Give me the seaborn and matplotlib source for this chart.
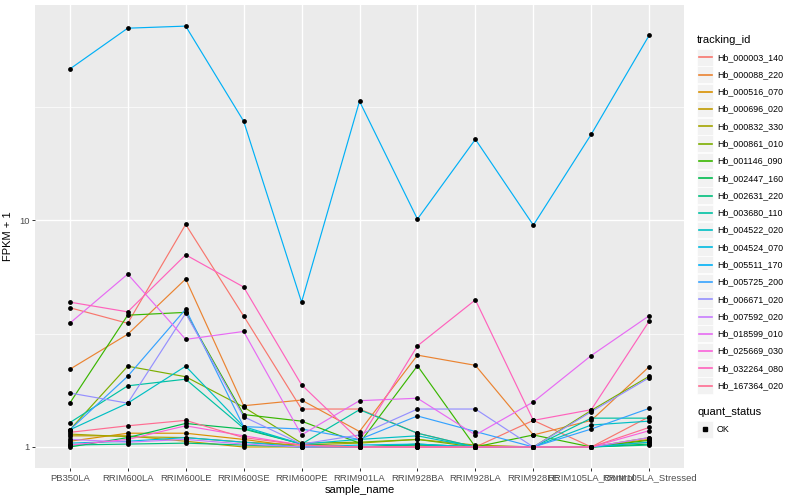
import pandas as pd
import matplotlib
matplotlib.use("Agg")
import matplotlib.pyplot as plt
import seaborn as sns
from matplotlib.patches import Rectangle
from matplotlib.lines import Line2D
from matplotlib.ticker import FixedLocator, NullFormatter

# ---- data (FPKM + 1) ----
samples = ["PB350LA", "RRIM600LA", "RRIM600LE", "RRIM600SE", "RRIM600PE",
           "RRIM901LA", "RRIM928BA", "RRIM928LA", "RRIM928LE",
           "RRIM105LA_Control", "RRIM105LA_Stressed"]

tracking_ids = ["Hb_000003_140", "Hb_000088_220", "Hb_000516_070", "Hb_000696_020",
                "Hb_000832_330", "Hb_000861_010", "Hb_001146_090", "Hb_002447_160",
                "Hb_002631_220", "Hb_003680_110", "Hb_004522_020", "Hb_004524_070",
                "Hb_005511_170", "Hb_005725_200", "Hb_006671_020", "Hb_007592_020",
                "Hb_018599_010", "Hb_025669_030", "Hb_032264_080", "Hb_167364_020"]

hb_000003_140 = [4.11, 3.51, 9.57, 3.78, 1.47, 1.47, 1.15, 1.00, 1.31, 1.00, 1.36]
hb_000088_220 = [2.20, 3.14, 5.50, 1.52, 1.61, 1.17, 2.54, 2.29, 1.13, 1.31, 2.26]
hb_000516_070 = [1.06, 1.15, 1.15, 1.08, 1.00, 1.00, 1.02, 1.00, 1.00, 1.00, 1.08]
hb_000696_020 = [1.12, 1.12, 1.06, 1.00, 1.00, 1.00, 1.00, 1.00, 1.00, 1.00, 1.05]
hb_000832_330 = [1.14, 1.11, 1.10, 1.05, 1.02, 1.04, 1.08, 1.02, 1.00, 1.00, 1.10]
hb_000861_010 = [1.19, 2.27, 2.04, 1.50, 1.04, 1.05, 1.08, 1.00, 1.00, 1.45, 2.05]
hb_001146_090 = [1.56, 3.81, 3.92, 1.39, 1.30, 1.04, 2.28, 1.00, 1.13, 1.00, 1.07]
hb_002447_160 = [1.00, 1.10, 1.27, 1.20, 1.03, 1.00, 1.03, 1.00, 1.00, 1.00, 1.03]
hb_002631_220 = [1.02, 1.03, 1.04, 1.02, 1.00, 1.00, 1.02, 1.00, 1.00, 1.00, 1.02]
hb_003680_110 = [1.28, 1.86, 1.99, 1.21, 1.03, 1.46, 1.15, 1.00, 1.00, 1.34, 1.34]
hb_004522_020 = [1.19, 1.56, 2.27, 1.23, 1.03, 1.08, 1.12, 1.00, 1.00, 1.25, 1.30]
hb_004524_070 = [1.04, 1.06, 1.10, 1.05, 1.00, 1.02, 1.03, 1.00, 1.00, 1.00, 1.05]
hb_005511_170 = [46.3, 70.1, 71.6, 27.3, 4.35, 33.4, 10.1, 22.7, 9.5, 23.9, 65.3]
hb_005725_200 = [1.19, 2.05, 4.05, 1.23, 1.20, 1.08, 1.37, 1.17, 1.00, 1.20, 1.48]
hb_006671_020 = [1.73, 1.56, 3.88, 1.36, 1.03, 1.13, 1.47, 1.47, 1.00, 1.43, 2.02]
hb_007592_020 = [1.08, 1.05, 1.08, 1.03, 1.00, 1.00, 1.00, 1.00, 1.00, 1.00, 1.10]
hb_018599_010 = [3.51, 5.78, 2.98, 3.23, 1.13, 1.60, 1.64, 1.13, 1.58, 2.53, 3.79]
hb_025669_030 = [1.02, 1.08, 1.24, 1.12, 1.02, 1.00, 1.00, 1.00, 1.00, 1.00, 1.18]
hb_032264_080 = [4.35, 3.94, 7.03, 5.07, 1.88, 1.07, 2.79, 4.45, 1.31, 1.46, 3.59]
hb_167364_020 = [1.16, 1.24, 1.31, 1.10, 1.02, 1.00, 1.00, 1.00, 1.00, 1.00, 1.22]

series = [hb_000003_140, hb_000088_220, hb_000516_070, hb_000696_020, hb_000832_330,
          hb_000861_010, hb_001146_090, hb_002447_160, hb_002631_220, hb_003680_110,
          hb_004522_020, hb_004524_070, hb_005511_170, hb_005725_200, hb_006671_020,
          hb_007592_020, hb_018599_010, hb_025669_030, hb_032264_080, hb_167364_020]

# ggplot2 default hue palette for 20 levels
hue_colors = ["#F8766D", "#EA8331", "#D89000", "#C09B00", "#A3A500", "#7CAE00",
              "#39B600", "#00BB4E", "#00BF7D", "#00C1A3", "#00BFC4", "#00BAE0",
              "#00B0F6", "#35A2FF", "#9590FF", "#C77CFF", "#E76BF3", "#FA62DB",
              "#FF62BC", "#FF6C91"]

rows = []
for tid, vals in zip(tracking_ids, series):
    for s, v in zip(samples, vals):
        rows.append({"tracking_id": tid, "sample_name": s, "fpkm": v})
df = pd.DataFrame(rows)

plt.rcParams['font.family'] = ['Liberation Sans', 'DejaVu Sans']

W, H = 800, 500
fig = plt.figure(figsize=(8, 5), dpi=100)
ax = fig.add_axes([35 / W, 1 - 468 / H, (684 - 35) / W, (468 - 5) / H])
ax.set_facecolor("#EBEBEB")
for sp in ax.spines.values():
    sp.set_visible(False)

palette = dict(zip(tracking_ids, hue_colors))
sns.lineplot(data=df, x="sample_name", y="fpkm", hue="tracking_id",
             hue_order=tracking_ids, palette=palette, units="tracking_id",
             estimator=None, sort=False, linewidth=0.85, legend=False, ax=ax)
sns.scatterplot(data=df, x="sample_name", y="fpkm", color="black", s=12,
                linewidth=0, legend=False, ax=ax, zorder=3)

ax.set_yscale("log")
ax.set_ylim(0.808, 88.7)
ax.set_xlim(-0.6, len(samples) - 0.4)
ax.set_yticks([1, 10])
ax.set_yticklabels(["1", "10"])
ax.yaxis.set_minor_locator(FixedLocator([10 ** 0.5, 10 ** 1.5]))
ax.yaxis.set_minor_formatter(NullFormatter())
ax.set_axisbelow(True)
ax.grid(which="major", color="white", linewidth=1.0)
ax.grid(which="minor", axis="y", color="white", linewidth=0.5)
ax.tick_params(axis="both", which="major", length=2, width=0.7, color="#333333",
               labelsize=6.8, labelcolor="#4D4D4D", pad=2)
ax.tick_params(axis="y", which="minor", length=0)
ax.set_xlabel("sample_name", fontsize=8, labelpad=2)
ax.set_ylabel("FPKM + 1", fontsize=8, labelpad=4)

# ---- legend drawn in ggplot style ----
def fx(px):
    return px / W

def fy(py):
    return 1 - py / H

fig.text(fx(697), fy(40), "tracking_id", fontsize=8, va="center", ha="left")
for i, (tid, col) in enumerate(zip(tracking_ids, hue_colors)):
    cy = 57.3 + i * 17.28
    fig.add_artist(Rectangle((fx(697), fy(cy + 8.3)), 16 / W, 16.6 / H,
                             transform=fig.transFigure, facecolor="#F2F2F2",
                             edgecolor="white", linewidth=0.5, zorder=1))
    fig.add_artist(Line2D([fx(698.5), fx(711.5)], [fy(cy), fy(cy)],
                          transform=fig.transFigure, color=col, linewidth=1.2,
                          zorder=2))
    fig.text(fx(717), fy(cy), tid, fontsize=6.4, va="center", ha="left")

fig.text(fx(697), fy(412), "quant_status", fontsize=8, va="center", ha="left")
fig.add_artist(Rectangle((fx(697), fy(437.6)), 16 / W, 16.6 / H,
                         transform=fig.transFigure, facecolor="#F2F2F2",
                         edgecolor="white", linewidth=0.5, zorder=1))
fig.add_artist(Line2D([fx(705)], [fy(429.3)], transform=fig.transFigure,
                      marker="s", markersize=2.6, color="black", linestyle="none",
                      zorder=2))
fig.text(fx(717), fy(429.3), "OK", fontsize=6.4, va="center", ha="left")

fig.savefig("out.png", dpi=100)
